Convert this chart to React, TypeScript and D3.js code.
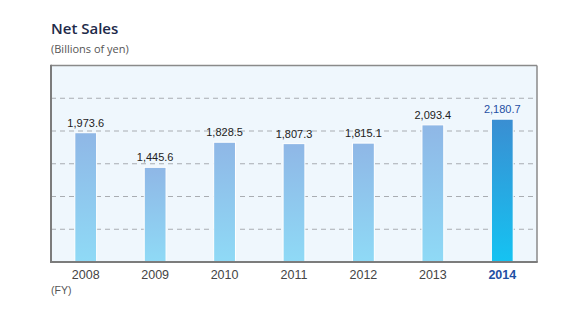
import React from "react";
import * as d3 from "d3";

const years = ["2008", "2009", "2010", "2011", "2012", "2013", "2014"];
const sales = [1973.6, 1445.6, 1828.5, 1807.3, 1815.1, 2093.4, 2180.7];
const gridTicks = [500, 1000, 1500, 2000, 2500];
const title = "Net Sales";
const unit = "(Billions of yen)";
const fyLabel = "(FY)";

const W = 580, H = 314;
const left = 51, right = 537, top = 65.5, bottom = 262;

export default function App() {
  const x = d3.scaleBand<string>().domain(years).range([left, right]).paddingInner(0.686).paddingOuter(0.343);
  const y = d3.scaleLinear().domain([0, 3000]).range([bottom, top]);
  const fmt = d3.format(",.1f");
  const last = years.length - 1;
  return (
    <div style={{ margin: -8 }}>
      <svg width={W} height={H} style={{ display: "block", background: "#fff" }}>
        <defs>
          <linearGradient id="gBar" x1="0" y1="0" x2="0" y2="1">
            <stop offset="0%" stopColor="#8fb7e6" />
            <stop offset="100%" stopColor="#8fdaf6" />
          </linearGradient>
          <linearGradient id="gLast" x1="0" y1="0" x2="0" y2="1">
            <stop offset="0%" stopColor="#3a8ed2" />
            <stop offset="100%" stopColor="#15c3f2" />
          </linearGradient>
        </defs>
        <text x={51} y={33.5} fontFamily="'Open Sans', 'Noto Sans', sans-serif" fontSize={15} fill="#1e2a4a" fontWeight={600}>{title}</text>
        <text x={51} y={52.5} fontFamily="'Open Sans', 'Noto Sans', sans-serif" fontSize={11} fill="#555">{unit}</text>
        <rect x={left} y={top} width={right - left} height={bottom - top} fill="#eff7fd" />
        {gridTicks.map((t) => (
          <line key={t} x1={left} x2={right} y1={y(t)} y2={y(t)} stroke="#a9adb2" strokeWidth={1} strokeDasharray="5,4" />
        ))}
        {years.map((yr, i) => (
          <rect key={yr} x={x(yr)} y={y(sales[i])} width={x.bandwidth()} height={bottom - y(sales[i])}
            fill={i === last ? "url(#gLast)" : "url(#gBar)"} stroke="#ffffff" strokeWidth={1} />
        ))}
        <line x1={left} x2={right} y1={top} y2={top} stroke="#8a8a8a" strokeWidth={1.5} />
        <line x1={right} x2={right} y1={top} y2={bottom} stroke="#8a8a8a" strokeWidth={1.5} />
        <line x1={left} x2={left} y1={top - 0.75} y2={bottom} stroke="#7c7c7c" strokeWidth={2} />
        <line x1={left - 1} x2={right + 0.75} y1={bottom} y2={bottom} stroke="#7c7c7c" strokeWidth={2} />
        {years.map((yr, i) => (
          <text key={"v" + yr} x={x(yr)! + x.bandwidth() / 2} y={y(sales[i]) - 6} textAnchor="middle"
            fontFamily="'Liberation Sans', Arial, sans-serif" fontSize={11} fill={i === last ? "#1f4fa3" : "#222"}>
            {fmt(sales[i])}
          </text>
        ))}
        {years.map((yr, i) => (
          <text key={"x" + yr} x={x(yr)! + x.bandwidth() / 2} y={279} textAnchor="middle"
            fontFamily="'Liberation Sans', Arial, sans-serif" fontSize={12.5}
            fill={i === last ? "#1f4fa3" : "#444"} fontWeight={i === last ? 700 : 400}>
            {yr}
          </text>
        ))}
        <text x={51} y={294} fontFamily="'Liberation Sans', Arial, sans-serif" fontSize={10.5} fill="#555">{fyLabel}</text>
      </svg>
    </div>
  );
}
